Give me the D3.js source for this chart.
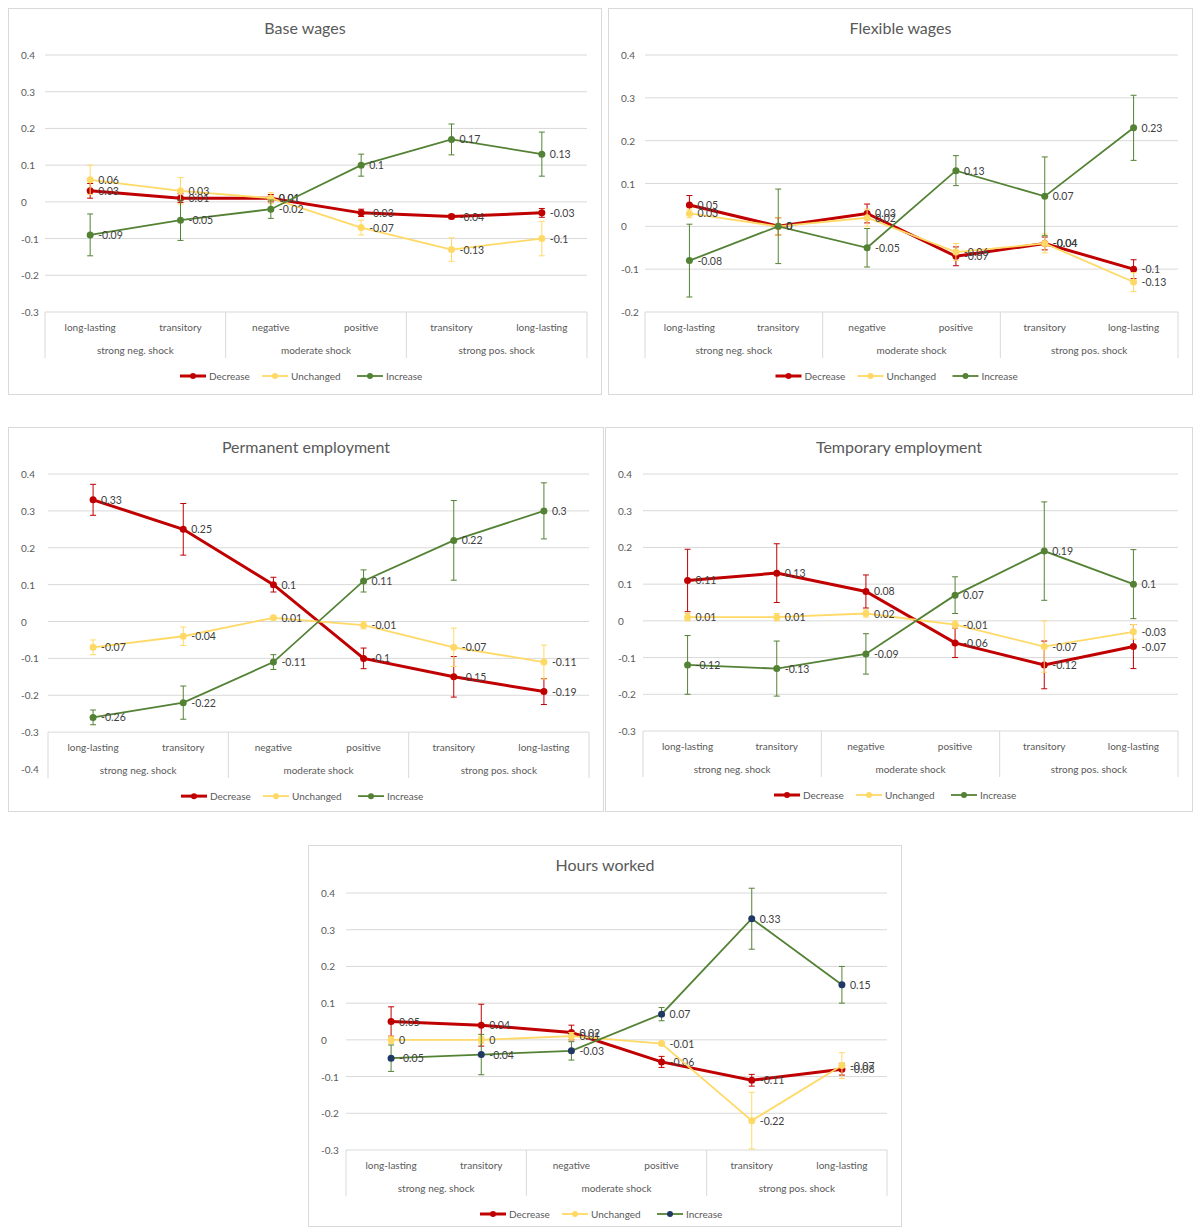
<!DOCTYPE html>
<html>
<head>
<meta charset="utf-8">
<script src="https://cdn.jsdelivr.net/npm/d3@7"></script>
<style>
  body { margin: 0; background: #fff; font-family: Lato, "Open Sans", sans-serif; }
  svg text { fill: #595959; }
</style>
</head>
<body>
<svg id="root" width="1195" height="1227"></svg>
<script>
const categories = ["long-lasting", "transitory", "negative", "positive", "transitory", "long-lasting"]
const groups = ["strong neg. shock", "moderate shock", "strong pos. shock"]
const seriesNames = ["Decrease", "Unchanged", "Increase"]

// values and error bar half-widths, per chart: [Decrease, Unchanged, Increase]
const baseWages = [[0.03, 0.01, 0.01, -0.03, -0.04, -0.03], [0.06, 0.03, 0.01, -0.07, -0.13, -0.1], [-0.09, -0.05, -0.02, 0.1, 0.17, 0.13]]
const baseWagesErr = [[0.02, 0.012, 0.01, 0.01, 0.006, 0.012], [0.04, 0.036, 0.015, 0.02, 0.032, 0.047], [0.057, 0.055, 0.025, 0.03, 0.042, 0.06]]
const flexWages = [[0.05, 0, 0.03, -0.07, -0.04, -0.1], [0.03, 0, 0.02, -0.06, -0.04, -0.13], [-0.08, 0, -0.05, 0.13, 0.07, 0.23]]
const flexWagesErr = [[0.022, 0.02, 0.022, 0.022, 0.015, 0.022], [0.01, 0.02, 0.02, 0.02, 0.022, 0.022], [0.085, 0.087, 0.045, 0.035, 0.092, 0.076]]
const permEmp = [[0.33, 0.25, 0.1, -0.1, -0.15, -0.19], [-0.07, -0.04, 0.01, -0.01, -0.07, -0.11], [-0.26, -0.22, -0.11, 0.11, 0.22, 0.3]]
const permEmpErr = [[0.042, 0.07, 0.02, 0.028, 0.055, 0.035], [0.02, 0.025, 0.005, 0.01, 0.052, 0.046], [0.02, 0.045, 0.02, 0.03, 0.108, 0.076]]
const tempEmp = [[0.11, 0.13, 0.08, -0.06, -0.12, -0.07], [0.01, 0.01, 0.02, -0.01, -0.07, -0.03], [-0.12, -0.13, -0.09, 0.07, 0.19, 0.1]]
const tempEmpErr = [[0.085, 0.08, 0.045, 0.04, 0.065, 0.06], [0.01, 0.01, 0.01, 0.01, 0.07, 0.02], [0.08, 0.075, 0.055, 0.05, 0.134, 0.094]]
const hours = [[0.05, 0.04, 0.02, -0.06, -0.11, -0.08], [0, 0, 0.01, -0.01, -0.22, -0.07], [-0.05, -0.04, -0.03, 0.07, 0.33, 0.15]]
const hoursErr = [[0.04, 0.057, 0.02, 0.015, 0.016, 0.016], [0.01, 0.01, 0.01, 0.006, 0.077, 0.035], [0.036, 0.055, 0.025, 0.018, 0.083, 0.05]]

const lineColors = ["#c00000", "#ffd966", "#548235"]

const panels = [
  { title: "Base wages", v: baseWages, e: baseWagesErr, x: 8, y: 8, w: 594, h: 387, yMin: -0.3, yMax: 0.4, axisAt: -0.3, left: 37, top: 47, bottom: 304 },
  { title: "Flexible wages", v: flexWages, e: flexWagesErr, x: 608, y: 8, w: 585, h: 387, yMin: -0.2, yMax: 0.4, axisAt: -0.2, left: 37, top: 47, bottom: 304 },
  { title: "Permanent employment", v: permEmp, e: permEmpErr, x: 8, y: 427, w: 596, h: 385, yMin: -0.4, yMax: 0.4, axisAt: -0.3, left: 40, top: 47, bottom: 342 },
  { title: "Temporary employment", v: tempEmp, e: tempEmpErr, x: 605, y: 427, w: 588, h: 385, yMin: -0.3, yMax: 0.4, axisAt: -0.3, left: 38, top: 47, bottom: 304 },
  { title: "Hours worked", v: hours, e: hoursErr, x: 308, y: 845, w: 594, h: 382, yMin: -0.3, yMax: 0.4, axisAt: -0.3, left: 38, top: 48, bottom: 305, markerInc: "#1f3864" }
]

const svg = d3.select("#root")

panels.forEach(p => {
  const g = svg.append("g").attr("transform", `translate(${p.x},${p.y})`)
  g.append("rect").attr("x", 0.5).attr("y", 0.5).attr("width", p.w - 1).attr("height", p.h - 1)
    .attr("fill", "#fff").attr("stroke", "#d9d9d9")

  const right = p.w - 15
  const y = d3.scaleLinear().domain([p.yMin, p.yMax]).range([p.bottom, p.top])
  const x = d3.scaleBand().domain(d3.range(6)).range([p.left, right])
  const cx = i => x(i) + x.bandwidth() / 2

  g.append("text").attr("x", p.w / 2).attr("y", 26).attr("text-anchor", "middle")
    .attr("font-size", 16).text(p.title)

  // gridlines + tick labels
  const ticks = d3.range(Math.round(p.yMin * 10), Math.round(p.yMax * 10) + 1).map(d => d / 10)
  ticks.forEach(t => {
    if (t >= p.axisAt - 1e-9) {
      g.append("line").attr("x1", p.left).attr("x2", right).attr("y1", y(t)).attr("y2", y(t))
        .attr("stroke", "#d9d9d9")
    }
    g.append("text").attr("x", 13).attr("y", y(t) + 4).attr("font-size", 10)
      .text(t === 0 ? "0" : String(+t.toFixed(1)))
  })

  // category axis block
  const ay = y(p.axisAt)
  const bx = [0, 2, 4, 6].map(i => i < 6 ? x(i) : right)
  bx.forEach(b => g.append("line").attr("x1", b).attr("x2", b).attr("y1", ay).attr("y2", ay + 46).attr("stroke", "#d9d9d9"))
  categories.forEach((c, i) => g.append("text").attr("x", cx(i)).attr("y", ay + 19).attr("text-anchor", "middle")
    .attr("font-size", 10).text(c))
  groups.forEach((c, i) => g.append("text").attr("x", (bx[i] + bx[i + 1]) / 2).attr("y", ay + 42).attr("text-anchor", "middle")
    .attr("font-size", 10).text(c))

  // series
  p.v.forEach((vals, s) => {
    const col = lineColors[s]
    const mcol = s === 2 && p.markerInc ? p.markerInc : col
    const sw = s === 0 ? 3 : 1.8
    const line = d3.line().x((d, i) => cx(i)).y(d => y(d))
    g.append("path").attr("d", line(vals)).attr("fill", "none").attr("stroke", col).attr("stroke-width", sw)
    vals.forEach((d, i) => {
      const e = p.e[s][i]
      const xx = cx(i)
      g.append("line").attr("x1", xx).attr("x2", xx).attr("y1", y(d - e)).attr("y2", y(d + e)).attr("stroke", col).attr("stroke-width", 1)
      ;[d - e, d + e].forEach(v => g.append("line").attr("x1", xx - 3).attr("x2", xx + 3).attr("y1", y(v)).attr("y2", y(v)).attr("stroke", col))
      g.append("circle").attr("cx", xx).attr("cy", y(d)).attr("r", 3.5).attr("fill", mcol)
      g.append("text").attr("x", xx + 8).attr("y", y(d) + 4).attr("font-size", 10.5)
        .style("fill", "#404040").text(d === 0 ? "0" : String(d))
    })
  })

  // legend
  const ly = ay + 64
  const widths = [82, 95, 70]
  let lx = p.w / 2 - 125
  seriesNames.forEach((n, s) => {
    const col = lineColors[s]
    const mcol = s === 2 && p.markerInc ? p.markerInc : col
    g.append("line").attr("x1", lx).attr("x2", lx + 26).attr("y1", ly).attr("y2", ly).attr("stroke", col).attr("stroke-width", s === 0 ? 3 : 1.8)
    g.append("circle").attr("cx", lx + 13).attr("cy", ly).attr("r", 3).attr("fill", mcol)
    g.append("text").attr("x", lx + 29).attr("y", ly + 3.5).attr("font-size", 10).text(n)
    lx += widths[s]
  })
})
</script>
</body>
</html>
